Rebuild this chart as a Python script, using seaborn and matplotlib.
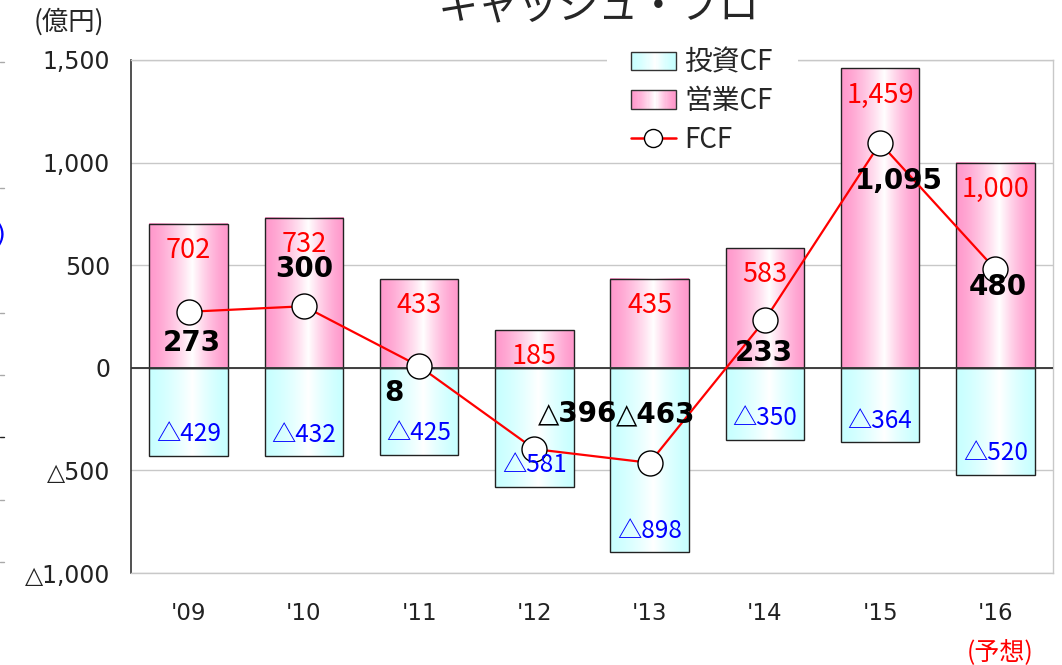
import numpy as np
import pandas as pd
import matplotlib
matplotlib.use('Agg')
import matplotlib.pyplot as plt
import seaborn as sns
from matplotlib.patches import Rectangle
from matplotlib.lines import Line2D
from matplotlib.legend_handler import HandlerBase
from matplotlib.colors import to_rgb

# ---------------- data ----------------
years = ["'09", "'10", "'11", "'12", "'13", "'14", "'15", "'16"]
operating_cf = [702, 732, 433, 185, 435, 583, 1459, 1000]
investing_cf = [-429, -432, -425, -581, -898, -350, -364, -520]
free_cf = [273, 300, 8, -396, -463, 233, 1095, 480]
y_ticks = [1500, 1000, 500, 0, -500, -1000]
y_tick_labels = ['1,500', '1,000', '500', '0', '△500', '△1,000']
legend_labels = ['投資CF', '営業CF', 'FCF']
title_text = 'キャッシュ・フロ'

# label offsets (pixels) for FCF values
fcf_offsets = [(3, -31), (0, 37), (-25, -27), (43, 36), (6, 48), (-1, -33), (19, -38), (2, -18)]

PINK = '#ff99cc'
CYAN = '#c8ffff'
CJK = 'Noto Sans CJK JP'

sns.set_theme(style='white')
plt.rcParams['font.family'] = ['DejaVu Sans', CJK]

W, H = 1062, 665
fig = plt.figure(figsize=(W / 100, H / 100), dpi=100)
ax = fig.add_axes([131 / W, 1 - 573 / H, (1053 - 131) / W, (573 - 60) / H])

df = pd.DataFrame({'year': years, 'op': operating_cf, 'inv': investing_cf, 'fcf': free_cf})


def gradient(edge, n=256, mid=0.55):
    t = np.linspace(0, 1, n)
    w = np.where(t < mid, t / mid, (1 - t) / (1 - mid))
    w = w ** 1.4
    e = np.array(to_rgb(edge))
    return e[None, :] * (1 - w[:, None]) + np.ones(3)[None, :] * w[:, None]


sns.barplot(data=df, x='year', y='op', width=0.68, color=PINK, saturation=1,
            edgecolor='#222222', linewidth=1, errorbar=None, ax=ax, zorder=3)
sns.barplot(data=df, x='year', y='inv', width=0.68, color=CYAN, saturation=1,
            edgecolor='#222222', linewidth=1, errorbar=None, ax=ax, zorder=3)

n = len(years)
bar_patches = list(ax.patches)
for k, p in enumerate(bar_patches):
    edge = PINK if k < n else CYAN
    x0, w = p.get_x(), p.get_width()
    y0, h = p.get_y(), p.get_height()
    img = gradient(edge)[None, :, :]
    ax.imshow(img, extent=[x0, x0 + w, min(y0, y0 + h), max(y0, y0 + h)],
              aspect='auto', interpolation='bilinear', zorder=2.9)
    p.set_facecolor('none')

# FCF line
nlines = len(ax.lines)
sns.pointplot(data=df, x='year', y='fcf', color='red', markers='o', errorbar=None,
              ax=ax, linewidth=1.6, markersize=18, zorder=5)
for ln in ax.lines[nlines:]:
    if len(ln.get_xdata()) == n:
        ln.set_markerfacecolor('white')
        ln.set_markeredgecolor('black')
        ln.set_markeredgewidth(1)
        ln.set_markersize(18)
        ln.set_linewidth(1.6)
        ln.set_zorder(5)

ax.set_xlim(-0.5, n - 0.5)
ax.set_ylim(-1000, 1500)
ax.set_xlabel('')
ax.set_ylabel('')

ax.axhline(0, color='#333333', lw=1.3, zorder=4)
ax.set_yticks(y_ticks)
ax.set_yticklabels(y_tick_labels, fontsize=17, color='#222222')
ax.set_xticks(range(n))
ax.set_xticklabels(years, fontsize=16.5, color='#222222')
ax.tick_params(axis='y', length=0, pad=15)
ax.tick_params(axis='x', length=0, pad=21)
ax.yaxis.grid(True, color='#c8c8c8', lw=1)
ax.set_axisbelow(True)
for s in ['top', 'right', 'bottom']:
    ax.spines[s].set_color('#c8c8c8')
    ax.spines[s].set_linewidth(1)
ax.spines['left'].set_color('#333333')
ax.spines['left'].set_linewidth(1.2)

# value labels
for i, v in enumerate(operating_cf):
    ax.text(i, v - 130, f'{v:,}', ha='center', va='center', color='red',
            fontsize=19.5, family=CJK, zorder=6)
for i, v in enumerate(investing_cf):
    ax.text(i, v + 105, '△' + f'{abs(v):,}', ha='center', va='center', color='#0000ff',
            fontsize=17.5, family=CJK, zorder=6)
for i, v in enumerate(free_cf):
    s = f'{v:,}' if v >= 0 else '△' + f'{abs(v):,}'
    dx, dy = fcf_offsets[i]
    ax.annotate(s, (i, v), xytext=(dx, dy), textcoords='offset pixels',
                ha='center', va='center', fontsize=20, fontweight='bold',
                color='black', zorder=7)


# legend with gradient patches
class GradHandler(HandlerBase):
    def __init__(self, edge):
        super().__init__()
        self.edge = edge

    def create_artists(self, legend, orig_handle, xdescent, ydescent, width, height, fontsize, trans):
        cols = gradient(self.edge, n=40)
        arts = []
        m = len(cols)
        for k, c in enumerate(cols):
            arts.append(Rectangle((-xdescent + width * k / m, -ydescent), width / m * 1.1, height,
                                  facecolor=c, edgecolor='none', transform=trans))
        arts.append(Rectangle((-xdescent, -ydescent), width, height, facecolor='none',
                              edgecolor='#333333', lw=1, transform=trans))
        return arts


h_inv = Rectangle((0, 0), 1, 1)
h_op = Rectangle((0, 0), 1, 1)
h_fcf = Line2D([], [], color='red', lw=1.8, marker='o', markersize=13,
               markerfacecolor='white', markeredgecolor='black', markeredgewidth=1)
leg = ax.legend([h_inv, h_op, h_fcf], legend_labels,
                handler_map={h_inv: GradHandler(CYAN), h_op: GradHandler(PINK)},
                loc='upper left', bbox_to_anchor=(607 / W, 1 - 24 / H), bbox_transform=fig.transFigure,
                frameon=False,
                prop={'family': CJK, 'size': 20}, handlelength=1.62, handleheight=0.65,
                handletextpad=0.3, labelspacing=0.31, borderpad=0.85, borderaxespad=0)
leg.set_zorder(10)
# white band behind the legend interrupting the top frame line
ax.add_patch(Rectangle((607 / W, 1 - 70 / H), (798 - 607) / W, 20 / H, transform=fig.transFigure,
                       facecolor='white', edgecolor='none', clip_on=False, zorder=9))

# texts outside axes
fig.text(599 / W, 1 - 19 / H, title_text, ha='center', va='baseline', fontsize=29, family=CJK)
fig.text(69 / W, 1 - 22 / H, '(億円)', ha='center', va='center', fontsize=19, family=CJK)
fig.text(1000 / W, 1 - 652 / H, '(予想)', ha='center', va='center', fontsize=18, family=CJK, color='red')
fig.text(6 / W, 1 - 235 / H, ')', ha='right', va='center', fontsize=18, color='#0000ff')
for yy in [62, 188, 313, 375, 500, 562]:
    fig.add_artist(Line2D([0, 4 / W], [1 - yy / H] * 2, transform=fig.transFigure, color='#aaaaaa', lw=1))
fig.add_artist(Line2D([0, 4 / W], [1 - 437 / H] * 2, transform=fig.transFigure, color='#222222', lw=1))

fig.savefig('out.png', dpi=100)
